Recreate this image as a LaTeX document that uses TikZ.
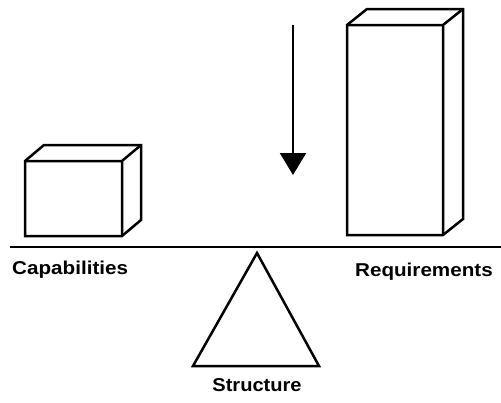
\documentclass[tikz,border=0pt]{standalone}
\usepackage{fontspec}
\setmainfont{Liberation Sans}
\usetikzlibrary{arrows.meta}
\begin{document}
\begin{tikzpicture}[x=1pt,y=-1pt,
  solid3d/.style={line width=2.5pt,line join=miter,fill=white},
  lbl/.style={inner sep=0pt,font=\fontsize{18.6}{20}\selectfont\bfseries}]
\useasboundingbox (0,0) rectangle (501,402);
\def\cbox#1#2#3#4#5#6{%
  \draw[solid3d] (#1,#2) -- (#1+#5,#2+#6) -- (#3+#5,#2+#6) -- (#3+#5,#4+#6) -- (#3,#4) -- (#1,#4) -- cycle;
  \draw[solid3d,fill=none] (#1,#2) -- (#3,#2) -- (#3,#4) (#3,#2) -- (#3+#5,#2+#6);}
% small box (capabilities)
\cbox{25}{161}{122}{236}{19}{-16}
% tall box (requirements)
\cbox{347}{25}{443}{235}{20}{-16}
% beam
\coordinate (bl) at (10,247);
\coordinate (br) at (501,247);
\draw[line width=2.5pt] (bl) -- (br);
% fulcrum
\coordinate (apex) at (257,253);
\coordinate (t1) at (193,366);
\coordinate (t2) at (319,366);
\draw[line width=2.5pt,line join=miter] (apex) -- (t1) -- (t2) -- cycle;
% arrow
\coordinate (a1) at (293,25);
\coordinate (a2) at (293,175);
\draw[line width=2.2pt,-{Triangle[width=26pt,length=22pt]}] (a1) -- (a2);
% labels
\node[lbl,anchor=base west] (cap) at (12,274.5) {\scalebox{1.11}[1]{Capabilities}};
\node[lbl,anchor=base east] (req) at (493,276) {\scalebox{1.11}[1]{Requirements}};
\node[lbl,anchor=base] (str) at (257,391) {\scalebox{1.08}[1]{Structure}};
\end{tikzpicture}
\end{document}
